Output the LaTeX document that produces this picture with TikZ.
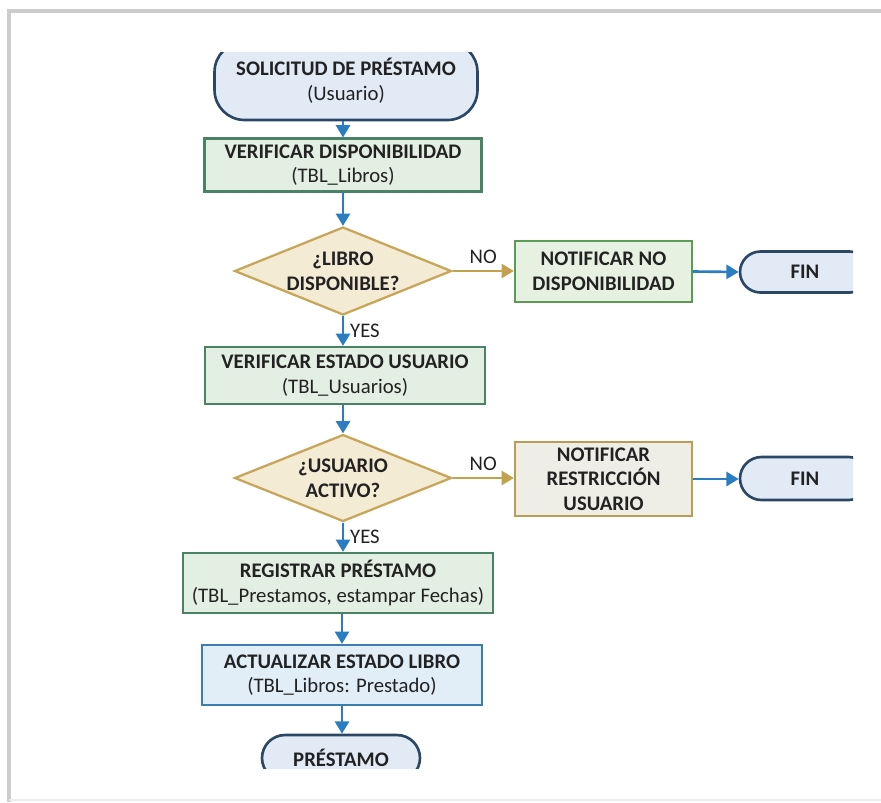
\documentclass[tikz,border=0pt]{standalone}
\usepackage{fontspec}
\setmainfont{Carlito}
\usepackage{xcolor}
\usetikzlibrary{arrows.meta,shapes.geometric}
\definecolor{ink}{HTML}{222222}
\definecolor{flowblue}{HTML}{2A7DC0}
\definecolor{flowgold}{HTML}{C4A24C}
\definecolor{procline}{HTML}{4A8265}
\definecolor{procfill}{HTML}{E4EFE3}
\definecolor{okline}{HTML}{5C9A55}
\definecolor{okfill}{HTML}{E6F1E2}
\definecolor{askline}{HTML}{C8A659}
\definecolor{askfill}{HTML}{F4EBD5}
\definecolor{warnline}{HTML}{B89E55}
\definecolor{warnfill}{HTML}{EEEDE6}
\definecolor{termline}{HTML}{2B4766}
\definecolor{termfill}{HTML}{E1EAF5}
\definecolor{updline}{HTML}{3A7FAE}
\definecolor{updfill}{HTML}{E1EEF8}

\begin{document}
\begin{tikzpicture}[x=0.02cm, y=-0.02cm, >={Triangle[length=7pt,width=8pt]},
    every node/.style={text=ink, font=\fontsize{11.8}{14}\selectfont, align=center},
    terminal/.style={draw=termline, fill=termfill, line width=1.5pt},
    process/.style={draw=procline, fill=procfill, line width=1.3pt},
    update/.style={draw=updline, fill=updfill, line width=1.3pt},
    notice/.style={draw=okline, fill=okfill, line width=1.3pt},
    warning/.style={draw=warnline, fill=warnfill, line width=1.3pt},
    decision/.style={diamond, aspect=2.47, draw=askline, fill=askfill, line width=1.3pt, inner sep=-1pt},
    flow/.style={->, flowblue, line width=1.5pt},
    noflow/.style={->, flowgold, line width=1.5pt}]
    \useasboundingbox (0,0) rectangle (881,802);

    % Frame of the screenshot
    \draw[gray!40, line width=2pt] (9,802) -- (9,11) -- (881,11);
    \draw[gray!15, line width=1pt] (9,800) -- (881,800);

    % Start, cut off at the top
    \begin{scope}
        \clip (0,52) rectangle (881,802);
        \node[terminal, minimum width=5.26cm, minimum height=1.56cm, rounded corners=0.6cm] (start) at (346,81)
            {\textbf{SOLICITUD DE PRÉSTAMO}\\(Usuario)};
    \end{scope}

    % Main column
    \node[process, minimum width=5.54cm, minimum height=1cm] (verif) at (343,165)
        {\textbf{VERIFICAR DISPONIBILIDAD}\\(TBL\_Libros)};
    \node[decision, minimum width=4.34cm, minimum height=1.76cm] (libro) at (343,271)
        {\textbf{¿LIBRO}\\\textbf{DISPONIBLE?}};
    \node[process, minimum width=5.6cm, minimum height=1.14cm] (usuario) at (345,375.5)
        {\textbf{VERIFICAR ESTADO USUARIO}\\(TBL\_Usuarios)};
    \node[decision, minimum width=4.34cm, minimum height=1.74cm] (activo) at (343,478)
        {\textbf{¿USUARIO}\\\textbf{ACTIVO?}};
    \node[process, minimum width=6.2cm, minimum height=1.2cm] (registro) at (338,583)
        {\textbf{REGISTRAR PRÉSTAMO}\\(TBL\_Prestamos, estampar Fechas)};
    \node[update, minimum width=5.6cm, minimum height=1.2cm] (actual) at (342,675)
        {\textbf{ACTUALIZAR ESTADO LIBRO}\\(TBL\_Libros: Prestado)};

    % End, cut off at the bottom
    \begin{scope}
        \clip (0,0) rectangle (881,768);
        \node[terminal, minimum width=3.16cm, minimum height=0.92cm, rounded corners=0.46cm] (prestamo) at (341,758)
            {\textbf{PRÉSTAMO}};
    \end{scope}

    % Side branches
    \node[notice, minimum width=3.54cm, minimum height=1.22cm] (nodisp) at (603.5,271.5)
        {\textbf{NOTIFICAR NO}\\\textbf{DISPONIBILIDAD}};
    \node[warning, minimum width=3.54cm, minimum height=1.44cm] (restric) at (603.5,479)
        {\textbf{NOTIFICAR}\\\textbf{RESTRICCIÓN}\\\textbf{USUARIO}};
    \begin{scope}
        \clip (0,0) rectangle (853,802);
        \node[terminal, minimum width=2.6cm, minimum height=0.82cm, rounded corners=0.41cm] (fin1) at (805,272) {\textbf{FIN}};
        \node[terminal, minimum width=2.6cm, minimum height=0.86cm, rounded corners=0.43cm] (fin2) at (805,478.5) {\textbf{FIN}};
    \end{scope}

    % Connectors
    \draw[flow] (start.south -| verif.north) -- (verif.north);
    \draw[flow] (verif) -- (libro);
    \draw[flow] (libro.south) -- node[right] {YES} (libro.south |- usuario.north);
    \draw[flow] (usuario.south -| activo.north) -- (activo.north);
    \draw[flow] (activo.south) -- node[right] {YES} (activo.south |- registro.north);
    \draw[flow] (registro.south -| actual.north) -- (actual.north);
    \draw[flow] (actual.south) -- (actual.south |- prestamo.north);
    \draw[noflow] (libro.east) -- node[above] {NO} (nodisp.west |- libro.east);
    \draw[noflow] (activo.east) -- node[above] {NO} (restric.west |- activo.east);
    \draw[flow] (nodisp.east) -- (fin1.west);
    \draw[flow] (restric.east) -- (restric.east -| fin2.west);
\end{tikzpicture}
\end{document}
